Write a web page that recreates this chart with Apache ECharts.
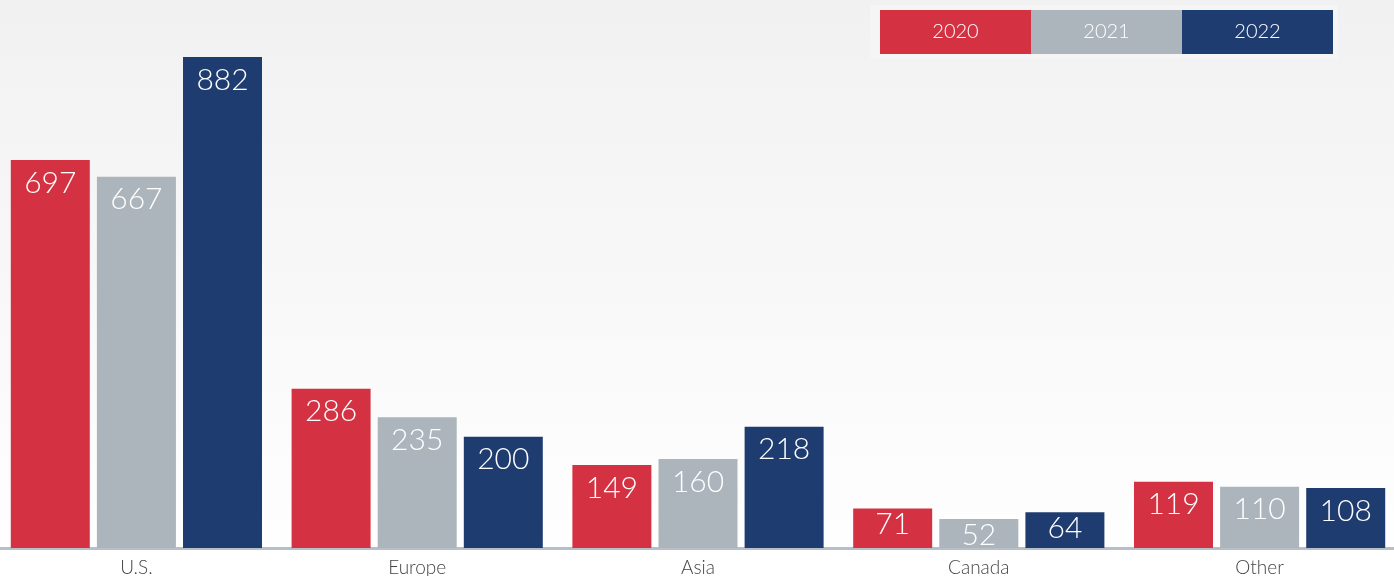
<!DOCTYPE html>
<html>
<head>
<meta charset="utf-8">
<script src="https://cdn.jsdelivr.net/npm/echarts@6/dist/echarts.min.js"></script>
<style>
html,body{margin:0;padding:0;}
#chart{width:1394px;height:576px;}
</style>
</head>
<body>
<div id="chart"></div>
<script>
const categories = ['U.S.', 'Europe', 'Asia', 'Canada', 'Other'];
const seriesNames = ['2020', '2021', '2022'];
const values2020 = [697, 286, 149, 71, 119];
const values2021 = [667, 235, 160, 52, 110];
const values2022 = [882, 200, 218, 64, 108];
const colors = ['#d43242', '#abb5bb', '#1f3c70'];

const allValues = [values2020, values2021, values2022];
const chart = echarts.init(document.getElementById('chart'));
const rich = {};
seriesNames.forEach((n, i) => {
  rich['c' + i] = {
    backgroundColor: colors[i],
    color: '#ffffff',
    width: 151,
    height: 44,
    lineHeight: 44,
    align: 'center',
    fontSize: 20,
    fontFamily: 'Lato',
    fontWeight: 300
  };
});
const option = {
  backgroundColor: {
    type: 'linear', x: 0, y: 0, x2: 0, y2: 1,
    colorStops: [{offset: 0, color: '#f1f1f1'}, {offset: 1, color: '#ffffff'}]
  },
  animation: false,
  legend: {
    top: 5,
    right: 56,
    itemWidth: 0,
    itemHeight: 0,
    itemGap: -5,
    padding: 5,
    backgroundColor: '#f5f5f5',
    selectedMode: false,
    formatter: function (name) {
      return '{c' + seriesNames.indexOf(name) + '|' + name + '}';
    },
    textStyle: { rich: rich },
    data: seriesNames.map(n => ({ name: n, icon: 'rect' }))
  },
  grid: { left: -4, right: -6, top: 47, bottom: 28, containLabel: false, outerBoundsMode: 'none' },
  xAxis: {
    type: 'category',
    data: categories,
    axisLine: { lineStyle: { color: '#b6bfc7', width: 3 } },
    axisTick: { show: false },
    axisLabel: { color: '#444', fontSize: 19, fontFamily: 'Lato', fontWeight: 300, margin: 10 }
  },
  yAxis: {
    type: 'value',
    min: 0, max: 900,
    show: false,
    splitLine: { show: false }
  },
  series: allValues.map((vals, i) => ({
    name: seriesNames[i],
    type: 'bar',
    data: vals.map((v, j) => categories[j] === 'Canada'
      ? { value: v, label: { distance: 1 } }
      : v),
    barWidth: 79,
    barGap: '9%',
    itemStyle: { color: colors[i] },
    label: {
      show: true,
      position: 'insideTop',
      distance: 8,
      color: '#ffffff',
      fontSize: 30,
      fontFamily: 'Lato',
      fontWeight: 300
    }
  }))
};
chart.setOption(option);
</script>
</body>
</html>
